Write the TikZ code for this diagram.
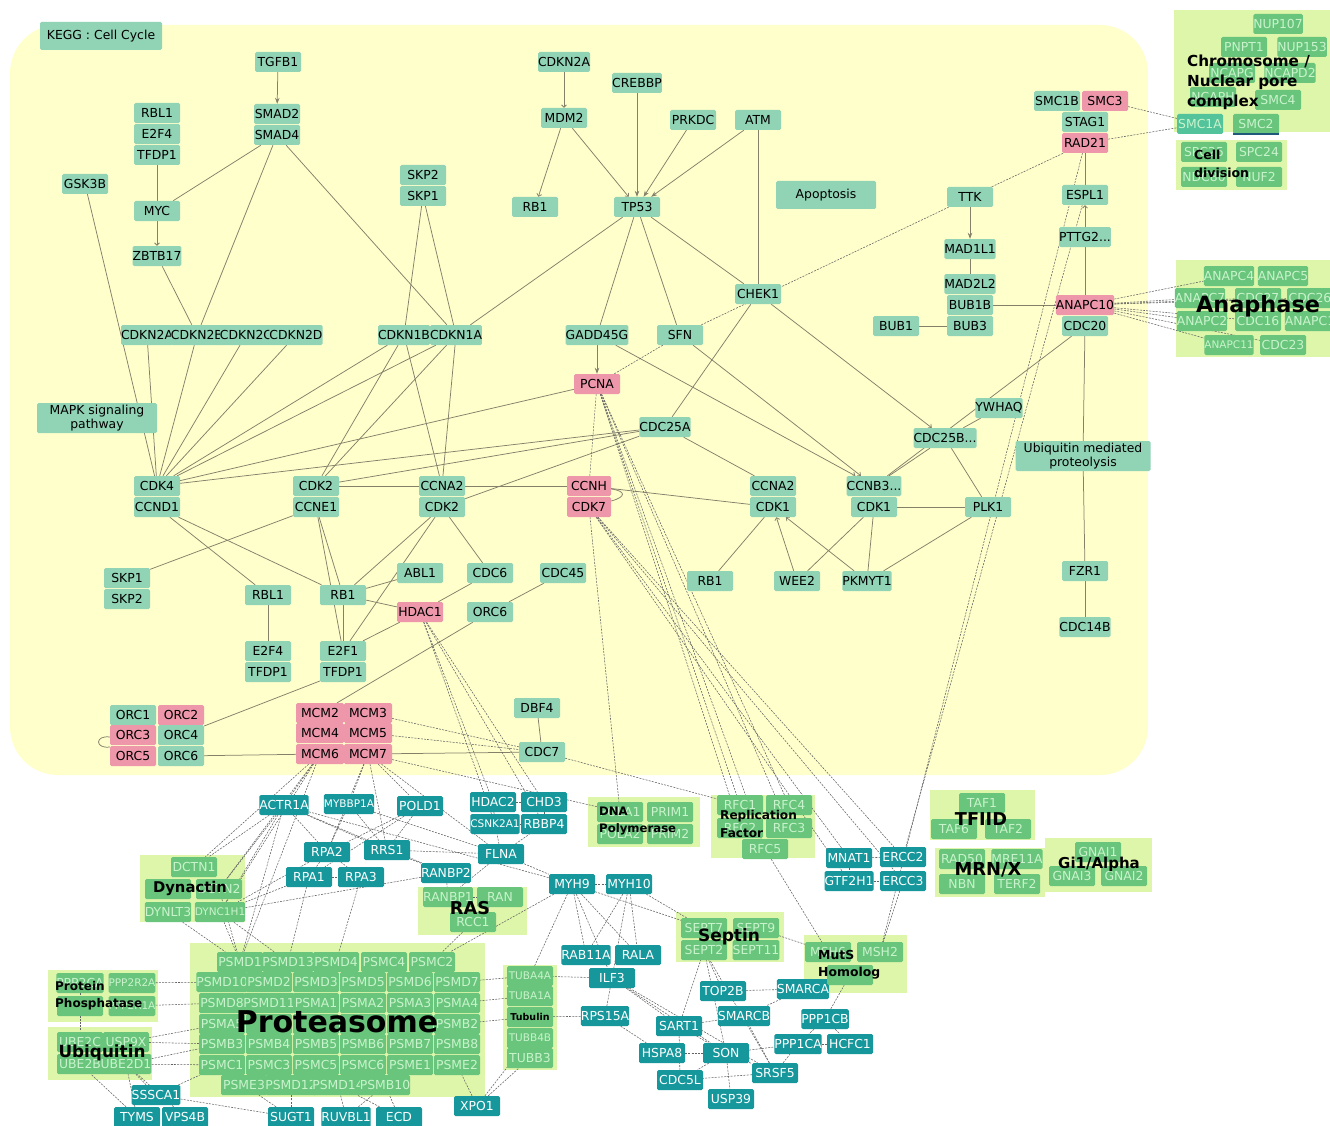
\documentclass[tikz,border=0pt]{standalone}
\usepackage{fontspec}
\setmainfont{DejaVu Sans}
\usetikzlibrary{arrows.meta}
\definecolor{cellbg}{HTML}{FFFFCC}
\definecolor{keggfill}{HTML}{90D3B5}
\definecolor{hitfill}{HTML}{EE97AB}
\definecolor{extfill}{HTML}{16979B}
\definecolor{cpxbg}{HTML}{DDF6AA}
\definecolor{cpxfill}{HTML}{68C57B}
\definecolor{cpxtext}{HTML}{C9F3CC}
\definecolor{smcfill}{HTML}{52C39A}
\definecolor{smcline}{HTML}{1F5A7A}
\definecolor{linkcol}{HTML}{84806A}
\definecolor{dashcol}{HTML}{626262}
\pgfdeclarelayer{back}
\pgfdeclarelayer{wires}
\pgfsetlayers{back,wires,main}
\newcommand\genefont{\fontsize{12.4}{13.4}\selectfont}
\newcommand\lblfont[2]{\fontsize{#1}{#2}\selectfont\bfseries}
\tikzset{
  gene/.style={fill=keggfill, rounded corners=1.5pt, minimum width=46pt, minimum height=20pt,
    inner sep=0pt, align=center, font=\genefont},
  hit/.style={gene, fill=hitfill},
  ext/.style={gene, fill=extfill, text=white},
  cpx/.style={gene, fill=cpxfill, text=cpxtext},
  narrow/.style={font=\fontsize{10.5}{12}\selectfont},
  cpxbox/.style={fill=cpxbg},
  cpxlabel/.style={inner sep=0pt, align=left, text=black},
  link/.style={draw=linkcol, line width=0.75pt},
  dlink/.style={draw=dashcol, line width=0.55pt, dash pattern=on 2pt off 1.2pt},
  act/.style={link, -{Stealth[length=6pt, width=4.5pt]}},
  inh/.style={link, -{Straight Barb[length=2.5pt, width=5pt]}},
}
\begin{document}
\begin{tikzpicture}[x=1pt, y=-1pt]
\useasboundingbox (0,0) rectangle (1330,1126);

% backgrounds: pathway and complexes
\begin{pgfonlayer}{back}
  \fill[cellbg, rounded corners=48pt] (10,25) rectangle (1148,775);
  \fill[cpxbox] (1174,10) rectangle (1330,132);
  \fill[cpxbox] (1176,140) rectangle (1287,190);
  \fill[cpxbox] (1176,260) rectangle (1330,357);
  \fill[cpxbox] (588,797) rectangle (700,847);
  \fill[cpxbox] (711,795) rectangle (815,858);
  \fill[cpxbox] (930,790) rectangle (1035,840);
  \fill[cpxbox] (935,848) rectangle (1045,897);
  \fill[cpxbox] (1045,838) rectangle (1152,892);
  \fill[cpxbox] (140,855) rectangle (245,922);
  \fill[cpxbox] (418,887) rectangle (527,935);
  \fill[cpxbox] (676,912) rectangle (784,962);
  \fill[cpxbox] (804,935) rectangle (907,993);
  \fill[cpxbox] (503,965) rectangle (557,1070);
  \fill[cpxbox] (48,970) rectangle (158,1022);
  \fill[cpxbox] (48,1027) rectangle (152,1080);
  \fill[cpxbox] (190,943) rectangle (485,1097);
\end{pgfonlayer}

% KEGG cell cycle
\node[gene, minimum width=122pt, minimum height=28pt] (kegg) at (101,36) {KEGG : Cell Cycle};
\node[gene] (tgfb) at (278,62) {TGFB1};
\node[gene] (smadb) at (277,114) {SMAD2};
\node[gene] (smadd) at (277,135) {SMAD4};
\node[gene] (rbla) at (157,113) {RBL1};
\node[gene] (efa) at (157,134) {E2F4};
\node[gene] (tfa) at (157,155) {TFDP1};
\node[gene] (gsk) at (85,184) {GSK3B};
\node[gene] (myc) at (157,211) {MYC};
\node[gene] (zbtb) at (157,256) {ZBTB17};
\node[gene] (skpb) at (423,175) {SKP2};
\node[gene] (skpa) at (423,196) {SKP1};
\node[gene] (cdkntop) at (564,62) {CDKN2A};
\node[gene] (crebbp) at (637,83) {CREBBP};
\node[gene] (mdm) at (564,118) {MDM2};
\node[gene] (prkdc) at (693,120) {PRKDC};
\node[gene] (atm) at (758,120) {ATM};
\node[gene] (rba) at (535,207) {RB1};
\node[gene] (tp) at (637,207) {TP53};
\node[gene, minimum width=100pt, minimum height=28pt] (apop) at (826,195) {Apoptosis};
\node[gene] (ttk) at (970,197) {TTK};
\node[gene] (madl) at (970,249) {MAD1L1};
\node[gene] (madb) at (970,284) {MAD2L2};
\node[gene] (bubbb) at (970,305) {BUB1B};
\node[gene] (bubc) at (970,326) {BUB3};
\node[gene] (buba) at (896,326) {BUB1};
\node[gene] (smcb) at (1057,101) {SMC1B};
\node[hit] (smcc) at (1105,101) {SMC3};
\node[gene] (stag) at (1085,122) {STAG1};
\node[hit] (rad) at (1085,143) {RAD21};
\node[gene] (espl) at (1085,195) {ESPL1};
\node[gene] (pttg) at (1085,237) {PTTG2...};
\node[hit] (anapc) at (1085,305) {ANAPC10};
\node[gene] (cdcb) at (1085,326) {CDC20};
\node[gene] (chek) at (758,294) {CHEK1};
\node[gene, minimum width=49pt] (cna) at (147,335) {CDKN2A};
\node[gene, minimum width=49pt] (cnb) at (197,335) {CDKN2B};
\node[gene, minimum width=49pt] (cnc) at (246,335) {CDKN2C};
\node[gene, minimum width=49pt] (cnd) at (296,335) {CDKN2D};
\node[gene, minimum width=51pt] (cnib) at (404,335) {CDKN1B};
\node[gene, minimum width=51pt] (cnia) at (456,335) {CDKN1A};
\node[gene, minimum width=50pt] (gadd) at (597,335) {GADD45G};
\node[gene] (sfn) at (680,335) {SFN};
\node[hit] (pcna) at (597,384) {PCNA};
\node[gene, minimum width=120pt, minimum height=30pt] (mapk) at (97,418) {MAPK signaling\\pathway};
\node[gene] (cdcya) at (665,427) {CDC25A};
\node[gene] (ywhaq) at (999,408) {YWHAQ};
\node[gene] (cdcyb) at (945,438) {CDC25B...};
\node[gene, minimum width=135pt, minimum height=30pt] (ubq) at (1083,456) {Ubiquitin mediated\\proteolysis};
\node[gene] (cdkd) at (157,486) {CDK4};
\node[gene] (ccnd) at (157,507) {CCND1};
\node[gene] (cdkba) at (316,486) {CDK2};
\node[gene] (ccne) at (316,507) {CCNE1};
\node[gene] (ccnaa) at (442,486) {CCNA2};
\node[gene] (cdkbb) at (442,507) {CDK2};
\node[hit, minimum width=44pt] (ccnh) at (589,486) {CCNH};
\node[hit, minimum width=44pt] (cdkg) at (589,507) {CDK7};
\node[gene] (ccnab) at (773,486) {CCNA2};
\node[gene] (cdkaa) at (773,507) {CDK1};
\node[gene] (ccnb) at (874,486) {CCNB3...};
\node[gene] (cdkab) at (874,507) {CDK1};
\node[gene] (plk) at (988,507) {PLK1};
\node[gene] (skpab) at (127,578) {SKP1};
\node[gene] (skpbb) at (127,599) {SKP2};
\node[gene] (rblb) at (268,595) {RBL1};
\node[gene] (rbb) at (343,595) {RB1};
\node[gene] (abl) at (420,573) {ABL1};
\node[hit] (hdac) at (420,612) {HDAC1};
\node[gene] (cdcf) at (490,573) {CDC6};
\node[gene] (cdcfe) at (563,573) {CDC45};
\node[gene] (orcfa) at (490,612) {ORC6};
\node[gene] (rbc) at (710,581) {RB1};
\node[gene] (wee) at (797,581) {WEE2};
\node[gene] (pkmyt) at (867,581) {PKMYT1};
\node[gene] (fzr) at (1085,571) {FZR1};
\node[gene] (cdcn) at (1085,627) {CDC14B};
\node[gene] (efb) at (268,651) {E2F4};
\node[gene] (tfb) at (268,672) {TFDP1};
\node[gene] (efc) at (343,651) {E2F1};
\node[gene] (tfc) at (343,672) {TFDP1};
\node[gene] (dbf) at (537,708) {DBF4};
\node[gene] (orca) at (133,715) {ORC1};
\node[hit] (orcb) at (181,715) {ORC2};
\node[hit] (orcc) at (133,735) {ORC3};
\node[gene] (orcd) at (181,735) {ORC4};
\node[hit] (orce) at (133,756) {ORC5};
\node[gene] (orcf) at (181,756) {ORC6};
\node[hit, minimum width=48pt] (mcmb) at (320,713) {MCM2};
\node[hit, minimum width=48pt] (mcmc) at (368,713) {MCM3};
\node[hit, minimum width=48pt] (mcmd) at (320,733) {MCM4};
\node[hit, minimum width=48pt] (mcme) at (368,733) {MCM5};
\node[hit, minimum width=48pt] (mcmf) at (320,754) {MCM6};
\node[hit, minimum width=48pt] (mcmg) at (368,754) {MCM7};
\node[gene] (cdcg) at (542,752) {CDC7};

% interaction partners
\node[ext] (actr) at (284,805) {ACTR1A};
\node[ext, narrow] (mybbp) at (349,804) {MYBBP1A};
\node[ext] (pold) at (420,806) {POLD1};
\node[ext] (hdacb) at (493,802) {HDAC2};
\node[ext] (chd) at (544,802) {CHD3};
\node[ext, narrow] (csnk) at (495,824) {CSNK2A1};
\node[ext] (rbbp) at (544,824) {RBBP4};
\node[ext] (rpab) at (327,852) {RPA2};
\node[ext] (rrs) at (387,850) {RRS1};
\node[ext] (rpaa) at (309,877) {RPA1};
\node[ext] (rpac) at (361,877) {RPA3};
\node[ext] (flna) at (501,854) {FLNA};
\node[ext] (ranbp) at (446,873) {RANBP2};
\node[ext] (myh) at (572,884) {MYH9};
\node[ext] (myhx) at (629,884) {MYH10};
\node[ext] (mnat) at (849,858) {MNAT1};
\node[ext] (ercb) at (903,857) {ERCC2};
\node[ext] (gtf) at (849,881) {GTF2H1};
\node[ext] (ercc) at (903,881) {ERCC3};
\node[ext] (rab) at (586,955) {RAB11A};
\node[ext] (rala) at (638,955) {RALA};
\node[ext] (ilf) at (612,978) {ILF3};
\node[ext] (topb) at (723,991) {TOP2B};
\node[ext] (smarca) at (803,989) {SMARCA};
\node[ext] (smarcb) at (744,1016) {SMARCB};
\node[ext] (rps) at (605,1016) {RPS15A};
\node[ext] (sart) at (679,1026) {SART1};
\node[ext] (pppb) at (825,1019) {PPP1CB};
\node[ext] (pppa) at (798,1044) {PPP1CA};
\node[ext] (hcfc) at (850,1044) {HCFC1};
\node[ext] (hspa) at (662,1053) {HSPA8};
\node[ext] (son) at (726,1053) {SON};
\node[ext] (srsf) at (775,1073) {SRSF5};
\node[ext] (cdcl) at (680,1080) {CDC5L};
\node[ext] (usp) at (731,1099) {USP39};
\node[ext] (xpo) at (477,1106) {XPO1};
\node[ext] (sssca) at (156,1095) {SSSCA1};
\node[ext] (tyms) at (137,1117) {TYMS};
\node[ext] (vps) at (185,1117) {VPS4B};
\node[ext] (sugt) at (291,1117) {SUGT1};
\node[ext] (ruvbl) at (346,1117) {RUVBL1};
\node[ext] (ecd) at (399,1117) {ECD};

% complexes
\node[cpx] (nupa) at (1278,24) {NUP107};
\node[cpx] (pnpt) at (1244,47) {PNPT1};
\node[cpx] (nupb) at (1302,47) {NUP153};
\node[cpx] (ncapg) at (1232,73) {NCAPG};
\node[cpx] (ncapd) at (1290,73) {NCAPD2};
\node[cpx] (ncaph) at (1213,97) {NCAPH};
\node[cpx] (smcd) at (1278,100) {SMC4};
\node[cpx, fill=smcfill] (smca) at (1200,124) {SMC1A};
\node[cpx] (smcbb) at (1256,124) {SMC2};
\draw[smcline, line width=1.6pt] (smcbb.south west) -- (smcbb.south east);
\node[cpx] (spcb) at (1204,152) {SPC25};
\node[cpx] (spca) at (1259,152) {SPC24};
\node[cpx] (ndc) at (1204,177) {NDC80};
\node[cpx] (nuf) at (1259,177) {NUF2};
\node[cpx] (anapcd) at (1229,276) {ANAPC4};
\node[cpx] (anapce) at (1283,276) {ANAPC5};
\node[cpx] (anapcg) at (1200,298) {ANAPC7};
\node[cpx] (cdcbg) at (1258,298) {CDC27};
\node[cpx] (cdcbf) at (1310,298) {CDC26};
\node[cpx] (anapcb) at (1202,321) {ANAPC2};
\node[cpx] (cdcap) at (1258,321) {CDC16};
\node[cpx] (anapcaa) at (1310,321) {ANAPC1};
\node[cpx, narrow] (anapck) at (1229,345) {ANAPC11};
\node[cpx] (cdcbc) at (1283,345) {CDC23};
\node[cpx] (pola) at (620,812) {POLA1};
\node[cpx] (prima) at (670,812) {PRIM1};
\node[cpx] (polb) at (620,834) {POLA2};
\node[cpx] (primb) at (670,834) {PRIM2};
\node[cpx] (rfca) at (740,805) {RFC1};
\node[cpx] (rfcd) at (789,805) {RFC4};
\node[cpx] (rfcb) at (740,828) {RFC2};
\node[cpx] (rfcc) at (789,828) {RFC3};
\node[cpx] (rfce) at (765,849) {RFC5};
\node[cpx] (tafa) at (982,803) {TAF1};
\node[cpx] (taff) at (954,829) {TAF6};
\node[cpx] (tafb) at (1008,829) {TAF2};
\node[cpx] (radf) at (962,859) {RAD50};
\node[cpx] (mre) at (1017,859) {MRE11A};
\node[cpx] (nbn) at (962,884) {NBN};
\node[cpx] (terf) at (1017,884) {TERF2};
\node[cpx] (gnaa) at (1098,852) {GNAI1};
\node[cpx] (gnac) at (1072,876) {GNAI3};
\node[cpx] (gnab) at (1124,876) {GNAI2};
\node[cpx] (dcta) at (194,867) {DCTN1};
\node[cpx] (dctx) at (168,889) {};
\node[cpx] (dctb) at (219,889) {DCTN2};
\node[cpx] (dynl) at (168,912) {DYNLT3};
\node[cpx, narrow] (dync) at (220,912) {DYNC1H1};
\node[cpx] (ranbpa) at (448,897) {RANBP1};
\node[cpx] (ran) at (500,897) {RAN};
\node[cpx] (rcc) at (473,922) {RCC1};
\node[cpx] (septg) at (704,928) {SEPT7};
\node[cpx] (septi) at (756,928) {SEPT9};
\node[cpx] (septb) at (704,950) {SEPT2};
\node[cpx] (septk) at (756,950) {SEPT11};
\node[cpx] (msh) at (828,952) {MSH6};
\node[cpx] (mshb) at (880,952) {MSH2};
\node[cpx] (mshc) at (850,975) {};
\node[cpx, narrow] (tubaa) at (530,976) {TUBA4A};
\node[cpx, narrow] (tubab) at (530,996) {TUBA1A};
\node[cpx] (tubmid) at (530,1017) {};
\node[cpx, narrow] (tubbb) at (530,1038) {TUBB4B};
\node[cpx] (tubbc) at (530,1058) {TUBB3};
\node[cpx] (ppa) at (80,983) {PPP2CA};
\node[cpx, narrow] (ppb) at (132,983) {PPP2R2A};
\node[cpx] (ppc) at (80,1006) {};
\node[cpx, narrow] (ppd) at (132,1006) {PPP2R1A};
\node[cpx] (ubec) at (80,1042) {UBE2C};
\node[cpx] (usp9) at (126,1042) {USP9X};
\node[cpx] (ubeb) at (80,1064) {UBE2B};
\node[cpx] (ubed) at (126,1064) {UBE2D1};
\foreach \t [count=\c] in {PSMD1,PSMD13,PSMD4,PSMC4,PSMC2}
  \node[cpx] (pa\c) at ({192+48*\c},962) {\t};
\foreach \t [count=\c] in {PSMD10,PSMD2,PSMD3,PSMD5,PSMD6,PSMD7}
  \node[cpx] (pb\c) at ({175+47*\c},982) {\t};
\foreach \t [count=\c] in {PSMD8,PSMD11,PSMA1,PSMA2,PSMA3,PSMA4}
  \node[cpx] (pc\c) at ({175+47*\c},1003) {\t};
\foreach \t [count=\c] in {PSMA5,{},{},{},{},PSMB2}
  \node[cpx] (pd\c) at ({175+47*\c},1024) {\t};
\foreach \t [count=\c] in {PSMB3,PSMB4,PSMB5,PSMB6,PSMB7,PSMB8}
  \node[cpx] (pe\c) at ({175+47*\c},1044) {\t};
\foreach \t [count=\c] in {PSMC1,PSMC3,PSMC5,PSMC6,PSME1,PSME2}
  \node[cpx] (pf\c) at ({175+47*\c},1065) {\t};
\foreach \t [count=\c] in {PSME3,PSMD12,PSMD14,PSMB10}
  \node[cpx] (pg\c) at ({197+47*\c},1085) {\t};

% connectors
\begin{pgfonlayer}{wires}
  \foreach \a/\b in {tfa/myc, smadd/myc, smadd/cnb, smadd/cnia, gsk/cdkd, zbtb/cnb, skpa/cnib, skpa/cnia,
      cna/cdkd, cnb/cdkd, cnc/cdkd, cnd/cdkd, cnib/cdkd, cnia/cdkd, cnib/cdkba, cnia/cdkba, cnib/ccnaa,
      cnia/ccnaa, cdkd/pcna, cdkd/cdcya, cdkba/cdcya, cdkba/ccnaa, cdkbb/cdcya, ccne/skpab, ccnd/rblb,
      ccnd/rbb, ccne/rbb, ccne/efc, cdkbb/rbb, cdkbb/efc, rbb/efc, rblb/efb, abl/rbb, hdac/rbb, hdac/efc,
      cdcf/hdac, cdkbb/cdcf, cdcfe/orcfa, orcfa/mcmb, tfc/orcd, orcf/mcmf, mcmg/cdcg, dbf/cdcg,
      ccnaa/ccnh, ccnh/cdkaa, cdcya/ccnab, cdkaa/rbc, cdkab/wee, cdkab/pkmyt, cdkab/plk, plk/pkmyt,
      cdcyb/plk, cdcyb/ccnb, ywhaq/cdcyb, cdcb/ccnb, chek/cdcya, tp/gadd, tp/sfn, tp/chek, tp/cnia,
      atm/chek, madl/madb, buba/bubc, bubbb/anapc, cdcb/ubq, ubq/fzr, fzr/cdcn, anapc/pttg, espl/rad}
    \draw[link] (\a) -- (\b);
  \draw[act] (tgfb) -- (smadb);
  \draw[act] (crebbp) -- (tp);
  \draw[act] (prkdc) -- (tp);
  \draw[act] (atm) -- (tp);
  \draw[act] (ttk) -- (madl);
  \draw[act] (gadd) -- (pcna);
  \draw[inh] (myc) -- (zbtb);
  \draw[inh] (cdkntop) -- (mdm);
  \draw[inh] (mdm) -- (rba);
  \draw[inh] (mdm) -- (tp);
  \draw[inh] (wee) -- (cdkaa);
  \draw[inh] (pkmyt) -- (cdkaa);
  \draw[inh] (chek) -- (cdcyb);
  \draw[inh] (gadd) -- (ccnb);
  \draw[inh] (sfn) -- (ccnb);
  \draw[inh] (pttg) -- (espl);
  \draw[link] ([yshift=-3pt]ccnh.east) .. controls +(15,2) and +(15,-4) .. ([yshift=6pt]cdkg.east);
  \draw[link] ([yshift=-2pt]orcc.west) .. controls +(-15,-2) and +(-15,2) .. ([yshift=-12pt]orcc.west);
  % cross-talk
  \foreach \a/\b in {pcna/sfn, sfn/ttk, ttk/rad, smcc/smca, rad/smca, rad/mshb, espl/ercb,
      anapc/anapcd, anapc/anapcg, anapc/cdcbg, anapc/anapcb, anapc/cdcap, anapc/anapck, anapc/cdcbc,
      anapc/cdcbf, pcna/ccnh, pcna/rfca, pcna/rfcd, pcna/rfcb, pcna/rfce, pcna/rfcc,
      cdkg/pola, cdkg/mnat, cdkg/ercb, cdkg/gtf, cdkg/ercc, hdac/hdacb, hdac/chd, hdac/csnk, hdac/rbbp,
      mcmc/cdcg, mcme/cdcg, cdcg/rfca, mcmg/pola, mcmf/actr, mcmf/dcta, mcmf/dctb, mcmf/pa1,
      mcmg/mybbp, mcmg/rpab, mcmg/rrs, mcmg/pold, mcmf/dync, mcmg/flna,
      actr/rpab, actr/rrs, actr/dcta, actr/dctb, actr/pa1, actr/ranbp, actr/myh, actr/dync,
      mybbp/rrs, mybbp/rpab, mybbp/flna, pold/rpab, pold/rpaa, pold/rrs, rpab/rpaa, rpab/rpac,
      rpaa/rpac, rpab/dync, rpac/pa3, rpaa/pa2, rrs/ranbp, rrs/flna, flna/ranbpa, flna/myh,
      flna/rbbp, flna/csnk, hdacb/chd, hdacb/csnk, chd/rbbp, csnk/rbbp, ranbp/ranbpa, ranbpa/ran,
      ran/rcc, ranbpa/rcc, rcc/pa5, myh/myhx, myh/rab, myh/rala, myh/ilf, myh/septg, myhx/rab,
      myhx/rala, myhx/septg, myhx/ilf, myh/tubaa, myh/pa5, ilf/tubaa, ilf/rps, ilf/sart, ilf/son,
      ilf/srsf, rps/tubmid, rps/hspa, sart/son, sart/septb, sart/cdcl, sart/smarcb, hspa/son,
      son/srsf, son/usp, son/cdcl, son/pppa, son/septb, srsf/cdcl, srsf/pppa, srsf/smarcb,
      srsf/septb, topb/smarca, topb/septb, smarca/smarcb, smarca/mshc, pppb/pppa, pppa/hcfc,
      pppb/mshc, pppb/hcfc, septi/msh, rfce/msh, ercc/mshb, mnat/ercb, gtf/ercc, mnat/gtf,
      xpo/tubbc, xpo/pf6, xpo/tubbb, sugt/pg1, sugt/pg2, ruvbl/pg3, ecd/pg4, ecd/pg3, ruvbl/pg4,
      sssca/sugt, sssca/ubed, tyms/ubeb, tyms/ubed, vps/ubed, sssca/pf1, ubed/pf1, usp9/pe1,
      usp9/pd1, ubed/pe1, ppb/pb1, ppd/pc1, ppa/ubec, dync/pa1, dync/rpaa, dync/ranbp, dynl/pa1,
      dctb/pa1, dync/pa2, tubaa/pb6, tubmid/pd6, tubab/pc6}
    \draw[dlink] (\a) -- (\b);
\end{pgfonlayer}

% complex labels
\node[cpxlabel, font=\lblfont{15.2}{20}, anchor=west] (chromlbl) at (1187,82) {Chromosome /\\Nuclear pore\\complex};
\node[cpxlabel, font=\lblfont{12.5}{18}, anchor=west] (celllbl) at (1194,164) {Cell\\division};
\node[cpxlabel, font=\lblfont{22.4}{24}] (anaphlbl) at (1258,306) {Anaphase};
\node[cpxlabel, font=\lblfont{11.7}{17}, anchor=west] (dnalbl) at (599,821) {DNA\\Polymerase};
\node[cpxlabel, font=\lblfont{12.1}{18}, anchor=west] (rfclbl) at (720,824) {Replication\\Factor};
\node[cpxlabel, font=\lblfont{17.7}{18}] (tfiidlbl) at (981,819) {TFIID};
\node[cpxlabel, font=\lblfont{17.9}{18}] (mrnlbl) at (988,870) {MRN/X};
\node[cpxlabel, font=\lblfont{15}{16}] (gilbl) at (1099,864) {Gi1/Alpha};
\node[cpxlabel, font=\lblfont{14.8}{15}] (dynlbl) at (190,888) {Dynactin};
\node[cpxlabel, font=\lblfont{17.7}{18}] (raslbl) at (470,908) {RAS};
\node[cpxlabel, font=\lblfont{17}{18}] (septlbl) at (729,937) {Septin};
\node[cpxlabel, font=\lblfont{12.4}{17}, anchor=west] (mutslbl) at (818,965) {MutS\\Homolog};
\node[cpxlabel, font=\lblfont{9.5}{10}] (tublbl) at (530,1017) {Tubulin};
\node[cpxlabel, font=\lblfont{12}{17}, anchor=west] (pplbl) at (55,996) {Protein\\Phosphatase};
\node[cpxlabel, font=\lblfont{16.8}{17}] (ubilbl) at (102,1053) {Ubiquitin};
\node[cpxlabel, font=\lblfont{30}{30}] (protlbl) at (337,1022) {Proteasome};
\end{tikzpicture}
\end{document}
